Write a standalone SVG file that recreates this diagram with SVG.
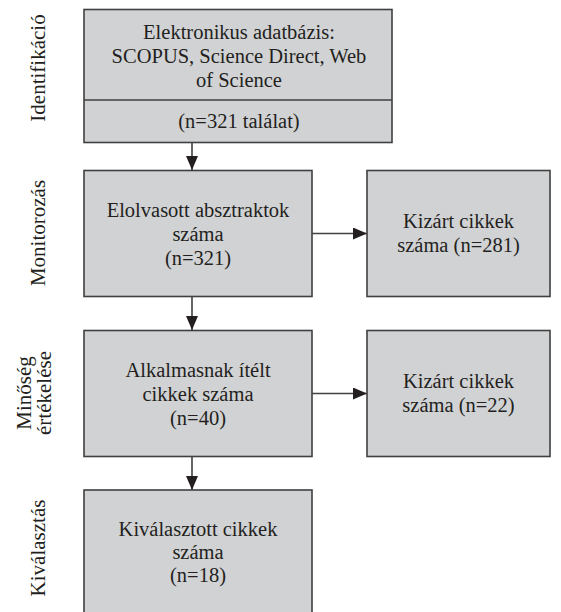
<svg xmlns="http://www.w3.org/2000/svg" width="561" height="612" viewBox="0 0 561 612">
<defs>
<style>
.box{fill:#d1d2d4;stroke:#404041;stroke-width:1.6}
.t{font-family:'Liberation Serif','Times New Roman',Times,serif;font-size:20.5px;fill:#231f20;text-anchor:middle}
.lbl{font-family:'Liberation Serif','Times New Roman',Times,serif;font-size:21px;fill:#231f20;text-anchor:middle}
.c{stroke:#404041;stroke-width:1.6;fill:none}
</style>
<marker id="ah" markerWidth="14" markerHeight="12" viewBox="0 0 14 12" refX="14" refY="6" orient="auto" markerUnits="userSpaceOnUse">
<path d="M0,0 L14,6 L0,12 Z" fill="#231f20"/>
</marker>
</defs>
<rect width="561" height="612" fill="#fff"/>
<g id="labels">
<text class="lbl" transform="translate(45,68) rotate(-90)">Identifikáció</text>
<text class="lbl" transform="translate(45,233) rotate(-90)">Monitorozás</text>
<text class="lbl" transform="translate(31,393) rotate(-90)">Minőség</text>
<text class="lbl" transform="translate(51,393) rotate(-90)">értékelése</text>
<text class="lbl" transform="translate(45,548) rotate(-90)">Kiválasztás</text>
</g>
<g id="node-ident">
<rect class="box" x="84" y="9.5" width="308" height="133"/>
<line class="c" x1="84" y1="100" x2="392" y2="100"/>
<text class="t" x="239" y="39">Elektronikus adatbázis:</text>
<text class="t" x="239" y="63">SCOPUS, Science Direct, Web</text>
<text class="t" x="239" y="87">of Science</text>
<text class="t" x="239" y="128">(n=321 találat)</text>
</g>
<g id="node-abstracts">
<rect class="box" x="84" y="170.5" width="228" height="126"/>
<text class="t" x="198" y="217">Elolvasott absztraktok</text>
<text class="t" x="198" y="241">száma</text>
<text class="t" x="198" y="265">(n=321)</text>
</g>
<g id="node-excl1">
<rect class="box" x="367" y="170.5" width="183" height="126"/>
<text class="t" x="458.5" y="228">Kizárt cikkek</text>
<text class="t" x="458.5" y="252">száma (n=281)</text>
</g>
<g id="node-suitable">
<rect class="box" x="84" y="330.5" width="228" height="126"/>
<text class="t" x="198" y="377">Alkalmasnak ítélt</text>
<text class="t" x="198" y="401">cikkek száma</text>
<text class="t" x="198" y="425">(n=40)</text>
</g>
<g id="node-excl2">
<rect class="box" x="367" y="330.5" width="183" height="126"/>
<text class="t" x="458.5" y="388">Kizárt cikkek</text>
<text class="t" x="458.5" y="412">száma (n=22)</text>
</g>
<g id="node-selected">
<rect class="box" x="84" y="490" width="228" height="130"/>
<text class="t" x="198" y="536">Kiválasztott cikkek</text>
<text class="t" x="198" y="559">száma</text>
<text class="t" x="198" y="582">(n=18)</text>
</g>
<g id="connectors">
<line class="c" x1="192" y1="143" x2="192" y2="170" marker-end="url(#ah)"/>
<line class="c" x1="192" y1="297" x2="192" y2="330" marker-end="url(#ah)"/>
<line class="c" x1="192" y1="457" x2="192" y2="490" marker-end="url(#ah)"/>
<line class="c" x1="312" y1="233.5" x2="367" y2="233.5" marker-end="url(#ah)"/>
<line class="c" x1="312" y1="393.5" x2="367" y2="393.5" marker-end="url(#ah)"/>
</g>
</svg>
